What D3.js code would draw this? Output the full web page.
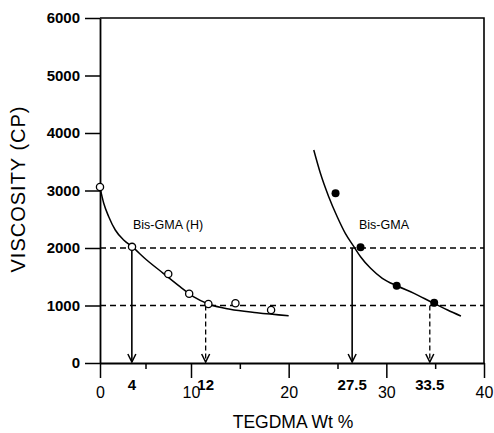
<!DOCTYPE html>
<html>
<head>
<meta charset="utf-8">
<script src="https://cdn.jsdelivr.net/npm/d3@7"></script>
<style>
body{margin:0;background:#fff;}
text{font-family:"Liberation Sans",Arial,sans-serif;fill:#000;}
</style>
</head>
<body>
<svg id="chart" width="494" height="433"></svg>
<script>
// data
var X_TICKS=[0,10,20,30,40];
var X_MINOR=[5,15,25,35];
var Y_TICKS=[0,1000,2000,3000,4000,5000,6000];
var REF_LEVELS=[2000,1000];

// Bis-GMA (H): open circles
var HPOINTS=[[0,3060],[3.52,2020],[7.5,1548],[9.8,1205],[11.78,1026],[14.55,1038],[18.2,922]];
var HCURVE=[[0,3050],[0.41,2777],[0.96,2544],[1.68,2313],[2.6,2139],[3.52,2023],[5.13,1791],[6.95,1560],[8.79,1327],[10.24,1153],[11.78,1026],[14.0,934],[16.75,875],[20.0,823]];

// Bis-GMA: filled circles
var GPOINTS=[[24.8,2951],[27.36,2012],[31.06,1344],[34.9,1049]];
var GCURVE=[[22.57,3704],[23.25,3299],[24.1,2892],[24.97,2544],[25.8,2255],[26.68,2023],[27.36,1849],[28.39,1647],[29.59,1473],[31.13,1339],[32.84,1212],[34.73,1049],[36.27,922],[37.64,817]];

// drop lines to the x axis
var ARROW_X=[3.5,11.5,26.5,34.45];
var ARROW_FROM=[2000,1000,2000,1000];
var ARROW_DASHED=[false,true,false,true];
var ARROW_LABELS=["4","12","27.5","33.5"];

var LEFT=100,RIGHT=484,TOP=18,BOTTOM=363;
var svg=d3.select("#chart");

// the original axis is a bit stretched between 0 and 10
var x=d3.scaleLinear().domain([0,10,40]).range([LEFT,191,RIGHT]);
var y=d3.scaleLinear().domain([0,6000]).range([BOTTOM,TOP]);

drawFrame();
drawAxes();
drawRefLines();
drawArrows();
drawSeries();
drawLabels();

function drawFrame(){
	svg.append("path")
		.attr("d","M"+LEFT+","+TOP+"H"+RIGHT+"V"+BOTTOM)
		.attr("fill","none")
		.attr("stroke","#000")
		.attr("stroke-width",1.6);
}

function drawAxes(){
	var gx=svg.append("g")
		.attr("transform","translate(0,"+BOTTOM+")")
		.call(d3.axisBottom(x).tickValues(X_TICKS).tickSize(15).tickPadding(9).tickSizeOuter(0));
	gx.selectAll("text").style("font-size","16px");
	var gm=svg.append("g")
		.attr("transform","translate(0,"+BOTTOM+")")
		.call(d3.axisBottom(x).tickValues(X_MINOR).tickSize(6).tickFormat("").tickSizeOuter(0));
	gm.select(".domain").remove();

	var gy=svg.append("g")
		.attr("transform","translate("+LEFT+",0)")
		.call(d3.axisLeft(y).tickValues(Y_TICKS).tickFormat(d3.format("d")).tickSize(15).tickPadding(5).tickSizeOuter(0));
	gy.selectAll("text").style("font-size","15px").style("font-weight","bold");

	svg.selectAll(".domain").attr("stroke-width",1.8);
	svg.selectAll(".tick line").attr("stroke-width",1.5);
	svg.selectAll(".tick text").attr("fill","#000");
}

function drawRefLines(){
	svg.selectAll("line.ref").data(REF_LEVELS).enter().append("line")
		.attr("class","ref")
		.attr("x1",x(0)).attr("x2",x(40))
		.attr("y1",function(d){return y(d);})
		.attr("y2",function(d){return y(d);})
		.attr("stroke","#000")
		.attr("stroke-width",1.4)
		.attr("stroke-dasharray","6,4");
}

function drawArrows(){
	for(var i=0;i<ARROW_X.length;i++){
		var ax=x(ARROW_X[i]);
		svg.append("line")
			.attr("x1",ax).attr("x2",ax)
			.attr("y1",y(ARROW_FROM[i])).attr("y2",y(0)-1)
			.attr("stroke","#000")
			.attr("stroke-width",ARROW_DASHED[i]?1.3:1.6)
			.attr("stroke-dasharray",ARROW_DASHED[i]?"5,3":null);
		svg.append("path")
			.attr("d","M"+(ax-4)+","+(y(0)-9)+"L"+ax+","+(y(0)-1)+"L"+(ax+4)+","+(y(0)-9))
			.attr("fill","none")
			.attr("stroke","#000")
			.attr("stroke-width",1.5);
		svg.append("text")
			.text(ARROW_LABELS[i])
			.attr("x",ax)
			.attr("y",390)
			.attr("text-anchor","middle")
			.style("font-size","15px")
			.style("font-weight","bold");
	}
}

function drawSeries(){
	var line=d3.line()
		.x(function(d){return x(d[0]);})
		.y(function(d){return y(d[1]);})
		.curve(d3.curveMonotoneX);
	svg.append("path").datum(HCURVE)
		.attr("d",line).attr("fill","none").attr("stroke","#000").attr("stroke-width",1.5);
	svg.append("path").datum(GCURVE)
		.attr("d",line).attr("fill","none").attr("stroke","#000").attr("stroke-width",1.5);

	svg.selectAll("circle.h").data(HPOINTS).enter().append("circle")
		.attr("class","h")
		.attr("cx",function(d){return x(d[0]);})
		.attr("cy",function(d){return y(d[1]);})
		.attr("r",3.6)
		.attr("fill","#fff")
		.attr("stroke","#000")
		.attr("stroke-width",1.3);
	svg.selectAll("circle.g").data(GPOINTS).enter().append("circle")
		.attr("class","g")
		.attr("cx",function(d){return x(d[0]);})
		.attr("cy",function(d){return y(d[1]);})
		.attr("r",4)
		.attr("fill","#000");
}

function drawLabels(){
	svg.append("text").text("Bis-GMA (H)")
		.attr("x",133).attr("y",229)
		.style("font-size","12.5px");
	svg.append("text").text("Bis-GMA")
		.attr("x",359).attr("y",229)
		.style("font-size","12.5px");
	svg.append("text").text("TEGDMA Wt %")
		.attr("x",293).attr("y",428)
		.attr("text-anchor","middle")
		.style("font-size","17.5px");
	svg.append("text").text("VISCOSITY (CP)")
		.attr("transform","translate(25,189) rotate(-90)")
		.attr("text-anchor","middle")
		.style("font-size","20px")
		.style("letter-spacing","1px");
}
</script>
</body>
</html>
